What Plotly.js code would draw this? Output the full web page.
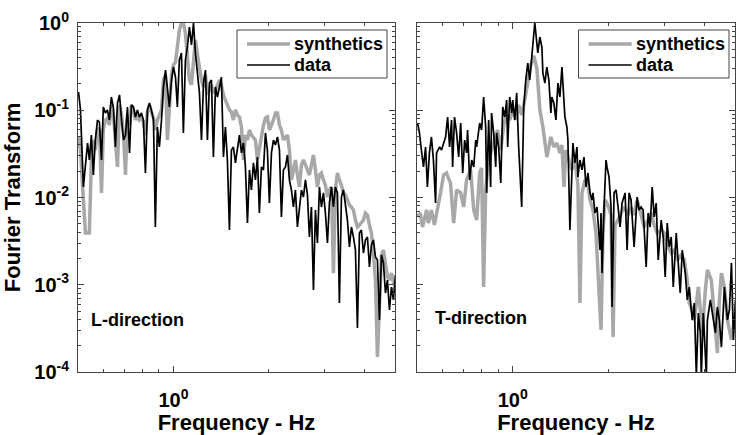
<!DOCTYPE html>
<html>
<head>
<meta charset="utf-8">
<script src="https://cdn.plot.ly/plotly-3.0.1.min.js"></script>
<style>html,body{margin:0;padding:0;background:#fff;}#chart{width:738px;height:435px;}</style>
</head>
<body>
<div id="chart"></div>
<script>
// ---- L-direction panel (shared frequency grid, Hz) ----
const freqL = [0.502,0.509,0.520,0.528,0.536,0.543,0.551,0.559,0.567,0.576,0.584,0.593,0.601,0.610,0.619,0.628,0.637,0.647,0.656,0.666,0.676,0.686,0.696,0.706,0.716,0.727,0.737,0.748,0.759,0.770,0.781,0.793,0.804,0.816,0.828,0.840,0.852,0.865,0.877,0.890,0.903,0.917,0.930,0.944,0.957,0.971,0.986,1.000,1.015,1.029,1.044,1.060,1.075,1.091,1.107,1.123,1.140,1.157,1.173,1.191,1.208,1.226,1.244,1.262,1.280,1.299,1.318,1.337,1.357,1.377,1.397,1.417,1.438,1.459,1.480,1.502,1.524,1.546,1.569,1.592,1.615,1.639,1.663,1.687,1.712,1.737,1.762,1.788,1.814,1.841,1.867,1.895,1.923,1.951,1.979,2.008,2.038,2.068,2.098,2.129,2.160,2.191,2.223,2.256,2.289,2.322,2.356,2.391,2.426,2.461,2.497,2.534,2.571,2.609,2.647,2.685,2.725,2.765,2.805,2.846,2.888,2.930,2.973,3.016,3.061,3.105,3.151,3.197,3.243,3.291,3.339,3.388,3.438,3.488,3.539,3.591,3.643,3.697,3.751,3.806,3.862,3.918,3.975,4.034,4.093,4.153,4.213,4.275,4.338,4.401,4.466,4.531,4.597,4.665,4.733,4.802,4.873,4.943,5.015];
const dataL = [0.162,0.101,0.0132,0.0269,0.0421,0.0269,0.0520,0.0181,0.0456,0.0773,0.0733,0.0269,0.109,0.0930,0.101,0.0773,0.142,0.106,0.0379,0.121,0.150,0.0773,0.0456,0.0520,0.109,0.0324,0.115,0.109,0.0837,0.101,0.0837,0.0930,0.0773,0.0191,0.101,0.121,0.101,0.0773,0.00459,0.0643,0.0379,0.0773,0.185,0.289,0.185,0.109,0.222,0.313,0.240,0.109,0.377,0.453,0.0549,0.377,0.531,0.900,0.560,1.00,0.453,0.240,0.158,0.0456,0.205,0.289,0.0456,0.205,0.222,0.0291,0.185,0.142,0.195,0.240,0.0291,0.0643,0.0269,0.00424,0.0350,0.0379,0.0249,0.0379,0.0520,0.0324,0.0421,0.0224,0.00510,0.0207,0.0122,0.0249,0.0159,0.0291,0.00664,0.0224,0.0207,0.0549,0.0350,0.00865,0.0324,0.0456,0.0400,0.0494,0.0350,0.00598,0.0207,0.0224,0.0307,0.0159,0.0122,0.00778,0.0122,0.00459,0.00820,0.0122,0.0101,0.0159,0.0107,0.00353,0.00778,0.000871,0.00719,0.00301,0.0132,0.00778,0.0113,0.00664,0.00301,0.00865,0.0132,0.00778,0.0132,0.0113,0.000618,0.0101,0.0122,0.00778,0.00552,0.00271,0.00459,0.00353,0.00250,0.000319,0.00392,0.00424,0.00231,0.00326,0.00353,0.00160,0.00285,0.00326,0.00208,0.00192,0.000394,0.00219,0.00178,0.000804,0.00113,0.000514,0.000942,0.000669,0.00129];
const synL = [0.0494,0.0350,0.00936,0.00392,0.00392,0.00392,0.0269,0.0456,0.0350,0.0594,0.0626,0.0113,0.0594,0.0773,0.0815,0.0677,0.115,0.0882,0.0456,0.0224,0.115,0.0882,0.0520,0.0181,0.0882,0.0677,0.115,0.101,0.0773,0.0882,0.0773,0.0815,0.0733,0.0520,0.0955,0.115,0.0955,0.0815,0.0594,0.0773,0.0882,0.101,0.222,0.254,0.0456,0.131,0.254,0.330,0.357,0.531,0.831,1.00,1.00,0.768,0.377,0.222,0.195,0.408,0.639,0.430,0.289,0.222,0.185,0.254,0.150,0.171,0.195,0.158,0.171,0.195,0.222,0.195,0.150,0.131,0.115,0.101,0.0955,0.0773,0.101,0.0882,0.0837,0.0643,0.0269,0.0520,0.0456,0.0594,0.0520,0.0494,0.0456,0.0269,0.0379,0.0520,0.0677,0.0815,0.0837,0.0594,0.0677,0.0773,0.0930,0.0930,0.0677,0.0594,0.0456,0.0494,0.0520,0.0350,0.0159,0.0207,0.0269,0.0181,0.0132,0.0236,0.0269,0.0236,0.0207,0.0181,0.0236,0.0307,0.0207,0.0132,0.0181,0.0191,0.0159,0.0139,0.0101,0.0122,0.0132,0.00136,0.0122,0.0191,0.0159,0.0139,0.0113,0.0107,0.00936,0.00820,0.00778,0.00719,0.00552,0.00459,0.00484,0.00510,0.00552,0.00664,0.00630,0.00484,0.00392,0.00231,0.00113,0.000149,0.000669,0.00219,0.00250,0.00160,0.00123,0.00113,0.00136,0.00105,0.000993];

// ---- T-direction panel ----
const freqRd = [0.502,0.509,0.516,0.524,0.532,0.539,0.547,0.555,0.563,0.572,0.576,0.589,0.597,0.606,0.615,0.624,0.633,0.642,0.647,0.656,0.666,0.676,0.686,0.696,0.706,0.716,0.721,0.732,0.743,0.754,0.765,0.770,0.787,0.798,0.810,0.822,0.828,0.840,0.852,0.858,0.871,0.884,0.890,0.903,0.917,0.930,0.944,0.957,0.964,0.978,0.993,1.000,1.015,1.029,1.044,1.067,1.083,1.099,1.115,1.131,1.148,1.165,1.173,1.182,1.199,1.217,1.235,1.244,1.262,1.280,1.299,1.318,1.327,1.347,1.367,1.387,1.407,1.428,1.438,1.459,1.480,1.491,1.513,1.535,1.546,1.569,1.592,1.603,1.627,1.651,1.675,1.700,1.724,1.750,1.775,1.788,1.814,1.841,1.854,1.881,1.895,1.909,1.937,1.965,1.979,2.008,2.038,2.053,2.083,2.113,2.144,2.176,2.207,2.256,2.289,2.322,2.356,2.408,2.461,2.497,2.534,2.571,2.628,2.666,2.705,2.745,2.785,2.826,2.867,2.930,2.973,3.016,3.061,3.105,3.151,3.197,3.267,3.315,3.363,3.413,3.488,3.539,3.591,3.643,3.670,3.724,3.779,3.834,3.890,3.918,3.975,4.063,4.093,4.183,4.244,4.338,4.401,4.466,4.531,4.631,4.733,4.802,4.873,4.943,5.015];
const dataR = [0.0714,0.0549,0.0350,0.0224,0.0379,0.0132,0.0324,0.0494,0.0269,0.00865,0.0324,0.0379,0.0350,0.0421,0.0494,0.0837,0.0379,0.0773,0.0224,0.0837,0.0549,0.0291,0.0714,0.0191,0.0456,0.0324,0.0594,0.0159,0.0269,0.0224,0.0456,0.0379,0.0714,0.0594,0.142,0.0643,0.0113,0.0773,0.0132,0.0930,0.0549,0.0224,0.0549,0.0379,0.0147,0.109,0.0837,0.131,0.0379,0.142,0.0930,0.131,0.0773,0.158,0.0379,0.00778,0.109,0.222,0.348,0.222,0.408,0.900,1.00,0.768,0.453,0.691,0.531,0.267,0.205,0.313,0.222,0.0930,0.142,0.121,0.0773,0.205,0.142,0.313,0.185,0.0837,0.0643,0.0456,0.00424,0.0224,0.0421,0.0249,0.0379,0.0172,0.0269,0.0207,0.0291,0.0132,0.0191,0.0113,0.00936,0.0113,0.00664,0.00778,0.00510,0.00250,0.00664,0.00136,0.00778,0.0269,0.0224,0.0172,0.00778,0.000556,0.0113,0.0122,0.00778,0.00459,0.00865,0.0113,0.00250,0.0113,0.00936,0.00271,0.0101,0.00719,0.00778,0.00719,0.00160,0.00664,0.00459,0.0132,0.00598,0.00865,0.00192,0.00552,0.00353,0.00123,0.00510,0.00271,0.00353,0.000942,0.00392,0.00178,0.000804,0.00250,0.00136,0.000669,0.000942,0.000514,0.000394,0.000618,0.00009,0.000475,0.000280,0.00009,0.000475,0.00009,0.000394,0.000669,0.000475,0.000280,0.000556,0.000394,0.000193,0.000942,0.000394,0.000514,0.00178,0.000233,0.000669];
const freqRs = [0.502,0.512,0.520,0.536,0.543,0.555,0.567,0.576,0.593,0.606,0.619,0.628,0.637,0.652,0.666,0.686,0.701,0.716,0.737,0.754,0.770,0.787,0.798,0.810,0.822,0.840,0.858,0.877,0.896,0.917,0.937,0.957,0.978,1.000,1.022,1.044,1.067,1.091,1.115,1.140,1.165,1.191,1.217,1.244,1.280,1.318,1.347,1.377,1.407,1.428,1.449,1.470,1.502,1.535,1.569,1.603,1.627,1.651,1.687,1.724,1.750,1.788,1.827,1.867,1.895,1.923,1.951,1.993,2.038,2.068,2.098,2.144,2.191,2.239,2.306,2.356,2.408,2.461,2.534,2.590,2.666,2.725,2.785,2.846,2.930,2.995,3.061,3.151,3.220,3.291,3.388,3.463,3.539,3.591,3.670,3.724,3.834,3.947,4.034,4.093,4.213,4.306,4.401,4.466,4.531,4.631,4.733,4.873,4.979];
const synR = [0.00598,0.00664,0.00459,0.00719,0.00510,0.00719,0.00484,0.00630,0.0113,0.0181,0.0191,0.0167,0.0147,0.00510,0.0122,0.0113,0.00778,0.0159,0.0207,0.00719,0.00552,0.0191,0.0218,0.000942,0.0122,0.0269,0.0350,0.0456,0.0594,0.0350,0.0677,0.0882,0.0773,0.101,0.0773,0.115,0.0882,0.131,0.222,0.330,0.420,0.300,0.101,0.0643,0.0291,0.0494,0.0379,0.0421,0.0324,0.0400,0.0132,0.0350,0.0269,0.0207,0.0269,0.0139,0.000618,0.0113,0.0159,0.0139,0.00936,0.00719,0.00392,0.000724,0.000303,0.00424,0.00936,0.00820,0.00630,0.000252,0.00484,0.00552,0.00664,0.00778,0.00630,0.00778,0.00630,0.00936,0.00630,0.00459,0.00552,0.00664,0.00484,0.00392,0.00424,0.00392,0.00285,0.00231,0.00250,0.00192,0.00219,0.00192,0.00113,0.000618,0.000514,0.000394,0.000942,0.000280,0.000871,0.00148,0.00113,0.000394,0.000165,0.000669,0.00136,0.000942,0.000394,0.000233,0.000394];

// ---- labels ----
const seriesNames = ['synthetics', 'data'];
const panelLabels = ['L-direction', 'T-direction'];
const yTickVals = [0.0001, 0.001, 0.01, 0.1, 1];
const yTickText = ['10<sup>-4</sup>', '10<sup>-3</sup>', '10<sup>-2</sup>', '10<sup>-1</sup>', '10<sup>0</sup>'];
const xTickVals = [1];
const xTickText = ['10<sup>0</sup>'];

const FONT = 'Liberation Sans, Arial, Helvetica, sans-serif';
const GRAY = '#a8a8a8';
const BLACK = '#000000';
const FRAME = '#444444';
const TXT = '#000000';

const yMinor = [];
[0.0001, 0.001, 0.01, 0.1].forEach(d => { for (let k = 2; k <= 9; k++) yMinor.push(d * k); });
const xMinor = [0.6, 0.7, 0.8, 0.9, 2, 3, 4];

function xAxis(domain) {
  return {
    type: 'log', domain: domain, range: [Math.log10(0.5), Math.log10(5)],
    showline: true, linecolor: FRAME, linewidth: 1, mirror: 'ticks',
    ticks: 'inside', ticklen: 6, tickcolor: FRAME, showgrid: false, zeroline: false,
    tickmode: 'array', tickvals: xTickVals, ticktext: xTickText,
    tickfont: { family: FONT, size: 20, weight: 'bold', color: TXT },
    ticklabelstandoff: 10,
    minor: { tickmode: 'array', tickvals: xMinor, ticks: 'inside', ticklen: 3, tickcolor: FRAME, showgrid: false },
    title: { text: 'Frequency - Hz', font: { family: FONT, size: 22, weight: 'bold', color: TXT }, standoff: 0 },
    automargin: false, fixedrange: true
  };
}
function yAxis(anchor, showLabels) {
  const a = {
    type: 'log', domain: [0, 1], range: [-4, 0], anchor: anchor,
    showline: true, linecolor: FRAME, linewidth: 1, mirror: 'ticks',
    ticks: 'inside', ticklen: 6, tickcolor: FRAME, showgrid: false, zeroline: false,
    tickmode: 'array', tickvals: yTickVals, ticktext: yTickText,
    showticklabels: showLabels,
    tickfont: { family: FONT, size: 20, weight: 'bold', color: TXT },
    ticklabelstandoff: 4,
    minor: { tickmode: 'array', tickvals: yMinor, ticks: 'inside', ticklen: 3, tickcolor: FRAME, showgrid: false },
    automargin: false, fixedrange: true
  };
  if (showLabels) a.title = { text: 'Fourier Transform', font: { family: FONT, size: 22, weight: 'bold', color: TXT }, standoff: 8 };
  return a;
}

const traces = [
  { x: freqL, y: synL, name: seriesNames[0], mode: 'lines', line: { color: GRAY, width: 3.5 }, xaxis: 'x', yaxis: 'y', showlegend: false },
  { x: freqL, y: dataL, name: seriesNames[1], mode: 'lines', line: { color: BLACK, width: 1.7 }, xaxis: 'x', yaxis: 'y', showlegend: false },
  { x: freqRs, y: synR, name: seriesNames[0], mode: 'lines', line: { color: GRAY, width: 3.5 }, xaxis: 'x2', yaxis: 'y2', showlegend: false },
  { x: freqRd, y: dataR, name: seriesNames[1], mode: 'lines', line: { color: BLACK, width: 1.7 }, xaxis: 'x2', yaxis: 'y2', showlegend: false }
];

// legend boxes drawn per panel (box, line samples, labels)
function legendParts(xr, yr, bx0, bx1, lx0, lx1, tx) {
  const yTop = 0.98, yBot = 0.8424, yRow1 = 0.9398, yRow2 = 0.8797;
  const shapes = [
    { type: 'rect', xref: xr, yref: yr, x0: bx0, x1: bx1, y0: yBot, y1: yTop, line: { color: FRAME, width: 1 }, fillcolor: '#ffffff', layer: 'above' },
    { type: 'line', xref: xr, yref: yr, x0: lx0, x1: lx1, y0: yRow1, y1: yRow1, line: { color: GRAY, width: 3.5 }, layer: 'above' },
    { type: 'line', xref: xr, yref: yr, x0: lx0, x1: lx1, y0: yRow2, y1: yRow2, line: { color: BLACK, width: 1.7 }, layer: 'above' }
  ];
  const anns = [
    { text: seriesNames[0], xref: xr, yref: yr, x: tx, y: yRow1, xanchor: 'left', yanchor: 'middle', showarrow: false, borderpad: 0, font: { family: FONT, size: 18, weight: 'bold', color: TXT } },
    { text: seriesNames[1], xref: xr, yref: yr, x: tx, y: yRow2, xanchor: 'left', yanchor: 'middle', showarrow: false, borderpad: 0, font: { family: FONT, size: 18, weight: 'bold', color: TXT } }
  ];
  return { shapes, anns };
}
const lg1 = legendParts('x domain', 'y domain', 0.5016, 0.9748, 0.5331, 0.6688, 0.6780);
const lg2 = legendParts('x2 domain', 'y2 domain', 0.5079, 0.9811, 0.5394, 0.6751, 0.6843);

const layout = {
  width: 738, height: 435,
  margin: { l: 78, r: 3, t: 23, b: 63, pad: 0 },
  paper_bgcolor: '#ffffff', plot_bgcolor: '#ffffff',
  font: { family: FONT, size: 18, color: TXT },
  showlegend: false,
  xaxis: xAxis([0, 0.4825]),
  yaxis: yAxis('x', true),
  xaxis2: xAxis([0.516, 1]),
  yaxis2: yAxis('x2', false),
  shapes: lg1.shapes.concat(lg2.shapes),
  annotations: [
    { text: panelLabels[0], xref: 'x domain', yref: 'y domain', x: 0.035, y: 0.149, xanchor: 'left', yanchor: 'middle', showarrow: false, font: { family: FONT, size: 18, weight: 'bold', color: TXT } },
    { text: panelLabels[1], xref: 'x2 domain', yref: 'y2 domain', x: 0.05, y: 0.155, xanchor: 'left', yanchor: 'middle', showarrow: false, font: { family: FONT, size: 18, weight: 'bold', color: TXT } }
  ].concat(lg1.anns, lg2.anns)
};

Plotly.newPlot('chart', traces, layout, { displayModeBar: false, staticPlot: true });
</script>
</body>
</html>
